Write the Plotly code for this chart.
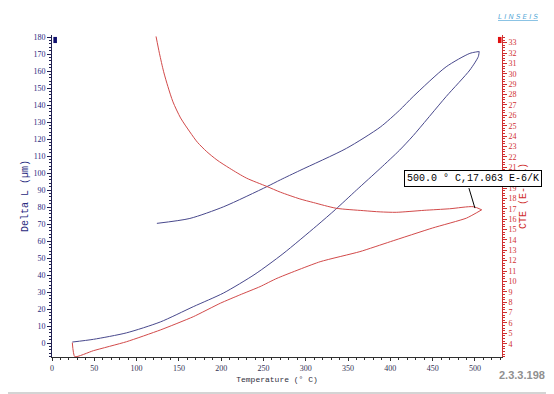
import plotly.graph_objects as go

# ---- data ----
heat_T = [24, 49, 88, 128, 167, 203, 240, 273, 313, 335, 360, 388, 411, 427, 466, 494, 504, 505]
heat_dL = [0.6, 2.2, 6.0, 12.4, 21.4, 29.5, 40.5, 52.5, 69.0, 78.5, 90.0, 102.7, 113.5, 122.0, 145.0, 160.6, 168.5, 171.5]
cool_T = [505, 494, 466, 427, 411, 388, 348, 293, 270, 254, 203, 163, 124]
cool_dL = [171.5, 170.4, 162.5, 145.0, 137.0, 127.0, 114.5, 101.5, 96.0, 92.0, 80.2, 73.3, 70.4]

cte_heat_T = [24, 27, 49, 88, 128, 167, 199, 222, 246, 266, 317, 364, 400, 450, 490, 508]
cte_heat = [4.1, 2.75, 3.33, 4.19, 5.32, 6.6, 7.9, 8.7, 9.5, 10.3, 11.9, 12.87, 13.83, 15.15, 16.1, 16.9]
cte_cool_T = [508, 498, 470, 440, 407, 388, 368, 336, 309, 293, 270, 254, 230, 210, 195, 183, 172, 163, 152, 143, 137, 132, 127, 123]
cte_cool = [16.9, 17.2, 17.0, 16.85, 16.66, 16.7, 16.82, 17.05, 17.6, 17.95, 18.6, 19.15, 19.95, 20.9, 21.7, 22.5, 23.4, 24.4, 25.75, 27.3, 28.78, 30.2, 31.98, 33.6]

x_ticks = list(range(0, 501, 50))
left_ticks = list(range(0, 181, 10))
right_ticks = list(range(4, 34))

ANNOT_T = 500.0
ANNOT_CTE = 17.063
annot_text = "500.0 ° C,17.063 E-6/K"

BLUE = "#48488c"
RED = "#d24a4a"
NAVY = "#2a2a80"
AXRED = "#d03030"

fig = go.Figure()
fig.add_trace(go.Scatter(x=heat_T + cool_T, y=heat_dL + cool_dL, mode="lines",
                         line=dict(color=BLUE, width=1, shape="spline", smoothing=0.7), showlegend=False))
fig.add_trace(go.Scatter(x=cte_heat_T, y=cte_heat, mode="lines",
                         line=dict(color=RED, width=1, shape="spline", smoothing=0.5), yaxis="y2", showlegend=False))
fig.add_trace(go.Scatter(x=cte_cool_T, y=cte_cool, mode="lines",
                         line=dict(color=RED, width=1, shape="spline", smoothing=0.7), yaxis="y2", showlegend=False))

tickfont = dict(family="Liberation Serif", size=8)

fig.update_layout(
    width=554, height=394, autosize=False,
    margin=dict(l=44, r=60, t=27, b=45),
    paper_bgcolor="white", plot_bgcolor="white",
    xaxis=dict(range=[0, 532], tickvals=x_ticks, showgrid=False, zeroline=False,
               showline=True, linecolor="#303030", linewidth=1,
               ticks="outside", ticklen=3, tickcolor="#303030",
               minor=dict(dtick=10, tick0=0, ticks="outside", ticklen=2, tickcolor="#303030"),
               tickfont=dict(tickfont, color="#333355"),
               title=dict(text="Temperature (° C)",
                          font=dict(family="Liberation Mono", size=8, color="#303040"), standoff=4)),
    yaxis=dict(range=[-8.2, 181.2], tickvals=left_ticks, showgrid=False, zeroline=False,
               showline=True, linecolor="#202050", linewidth=1,
               ticks="outside", ticklen=4, tickcolor="#202050",
               minor=dict(dtick=2, tick0=0, ticks="outside", ticklen=2, tickcolor="#202050"),
               tickfont=dict(tickfont, color=NAVY),
               title=dict(text="Delta L (µm)",
                          font=dict(family="Liberation Mono", size=10, color=NAVY), standoff=2)),
    yaxis2=dict(range=[2.72, 33.74], tickvals=right_ticks, overlaying="y", side="right", anchor="x",
                showgrid=False, zeroline=False,
                showline=True, linecolor=AXRED, linewidth=1,
                ticks="outside", ticklen=4, tickcolor=AXRED,
                minor=dict(dtick=0.25, tick0=0, ticks="outside", ticklen=2, tickcolor=AXRED),
                tickfont=dict(tickfont, color=AXRED),
                title=dict(text="CTE (E-6/K)",
                           font=dict(family="Liberation Mono", size=10, color=AXRED), standoff=3)),
)

# axis marker squares and frame
fig.add_shape(type="rect", xref="paper", yref="paper", x0=0.003, x1=0.011, y0=0.975, y1=0.994,
              fillcolor="#10106e", line=dict(width=0))
fig.add_shape(type="rect", xref="paper", yref="paper", x0=0.991, x1=0.999, y0=0.975, y1=0.994,
              fillcolor="#e01010", line=dict(width=0))
fig.add_shape(type="rect", xref="paper", yref="paper", x0=-0.113, x1=1.113, y0=-0.112, y1=1.106,
              line=dict(color="#d4d4d4", width=2))

# data label with leader line
fig.add_shape(type="line", xref="x", yref="y2", xsizemode="pixel", ysizemode="pixel",
              xanchor=ANNOT_T, yanchor=ANNOT_CTE, x0=0, y0=0, x1=-6, y1=20,
              line=dict(color="black", width=1))
fig.add_annotation(x=ANNOT_T, y=ANNOT_CTE, xref="x", yref="y2", text=annot_text,
                   showarrow=False, xshift=-2, yshift=30,
                   font=dict(family="Liberation Mono", size=10, color="black"),
                   bgcolor="white", bordercolor="black", borderwidth=1, borderpad=2)

fig.add_annotation(xref="paper", yref="paper", x=1.085, y=1.075, text="<i><u>L I N S E I S</u></i>",
                   showarrow=False, font=dict(family="DejaVu Sans", size=7, color="#5aaad8"))
fig.add_annotation(xref="paper", yref="paper", x=1.1, y=-0.08, xanchor="right", text="<b>2.3.3.198</b>",
                   showarrow=False, font=dict(family="Liberation Sans", size=11, color="#909090"))

fig.write_html("out.html")
